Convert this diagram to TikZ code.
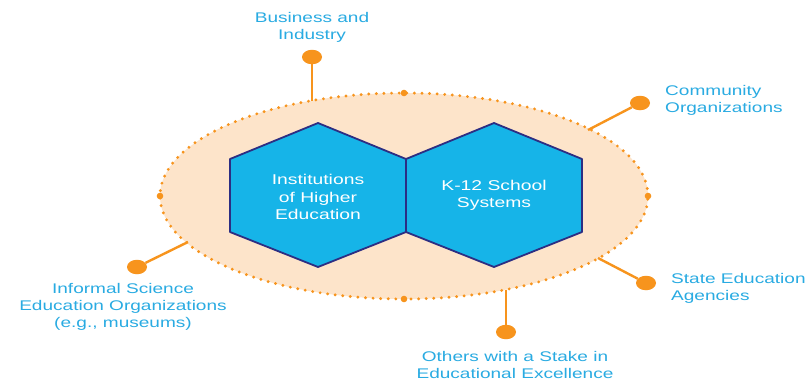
\documentclass[tikz,border=0pt]{standalone}
\usepackage{fontspec}
\setmainfont{Liberation Sans}
\newfontfamily\labfont[FakeStretch=1.36]{Liberation Sans}
\usetikzlibrary{shapes.geometric}
\definecolor{peach}{RGB}{253,228,202}
\definecolor{orng}{RGB}{247,148,29}
\definecolor{hexblue}{RGB}{22,180,232}
\definecolor{navy}{RGB}{44,46,131}
\definecolor{txtblue}{RGB}{41,171,226}
\tikzset{
  ringstyle/.style={ellipse, inner sep=0pt, outer sep=0pt, minimum width=488pt, minimum height=206pt,
    fill=peach, draw=orng, line width=3.2pt, line cap=round, dash pattern=on 0pt off 7.6pt},
  dotnode/.style={ellipse, inner sep=0pt, minimum width=20pt, minimum height=14.5pt, fill=orng},
  conn/.style={draw=orng, line width=2.4pt},
  hexs/.style={fill=hexblue, draw=navy, line width=1.8pt, line join=round},
  lab/.style={font=\labfont\fontsize{14}{17}\selectfont, text=txtblue, inner sep=0pt},
  hexlab/.style={font=\labfont\fontsize{14.2}{17.5}\selectfont, text=white, inner sep=0pt, align=center}
}
\begin{document}
\begin{tikzpicture}[x=1pt,y=-1pt]
\useasboundingbox (0,0) rectangle (808,381);
\fill[white] (0,0) rectangle (808,381);
% ring
\node[ringstyle] (ring) at (404,196) {};
\foreach \a in {north,south,east,west}{\fill[orng] (ring.\a) circle (3.3pt);}
% hexagons
\draw[hexs] (230,159) -- (318,123) -- (406,159) -- (406,232) -- (318,267) -- (230,232) -- cycle;
\draw[hexs] (406,159) -- (494,123) -- (582,159) -- (582,232) -- (494,267) -- (406,232) -- cycle;
\node[hexlab] (ihe) at (318,197) {Institutions\\of Higher\\Education};
\node[hexlab] (k12) at (494,195.5) {K-12 School\\Systems};
% connector ends on ring
\coordinate (cBus) at (312,100.6);
\coordinate (cCom) at (588,130);
\coordinate (cSta) at (598,258);
\coordinate (cOth) at (506,289.6);
\coordinate (cInf) at (188,242);
% dots
\node[dotnode] (dBus) at (312,57) {};
\node[dotnode] (dCom) at (640,103) {};
\node[dotnode] (dSta) at (646,283) {};
\node[dotnode] (dOth) at (506,332) {};
\node[dotnode] (dInf) at (137,267) {};
\draw[conn] (cBus) -- (dBus);
\draw[conn] (cCom) -- (dCom);
\draw[conn] (cSta) -- (dSta);
\draw[conn] (cOth) -- (dOth);
\draw[conn] (cInf) -- (dInf);
% labels
\node[lab, align=center] (tBus) at (312,27) {Business and\\Industry};
\node[lab, align=left, anchor=west] (tCom) at (665,100.5) {Community\\Organizations};
\node[lab, align=left, anchor=west] (tSta) at (671,288) {State Education\\Agencies};
\node[lab, align=center] (tOth) at (515,364.5) {Others with a Stake in\\Educational Excellence};
\node[lab, align=center] (tInf) at (123,307) {Informal Science\\Education Organizations\\(e.g., museums)};
\end{tikzpicture}
\end{document}
